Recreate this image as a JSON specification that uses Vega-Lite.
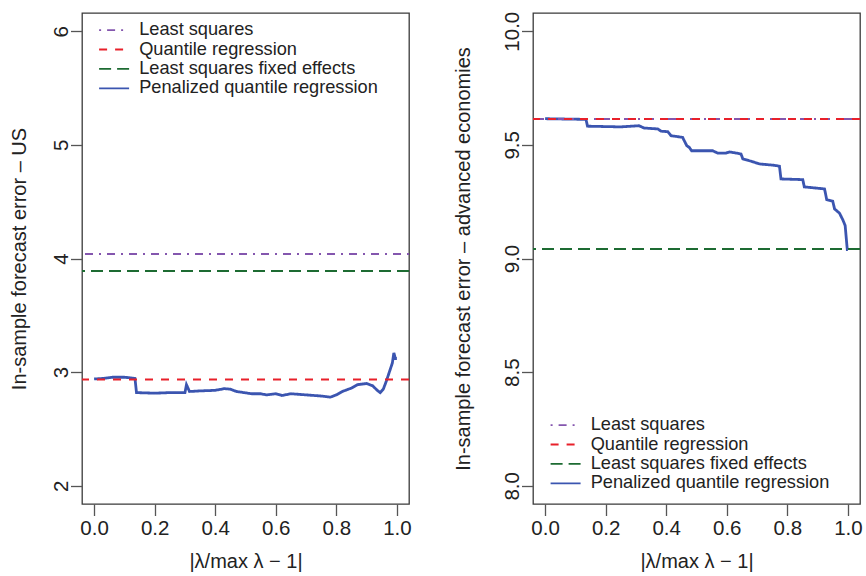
{
  "$schema": "https://vega.github.io/schema/vega-lite/v6.json",
  "padding": {"left": 8, "top": 10, "right": 5, "bottom": 5},
  "background": "white",
  "config": {
    "font": "Liberation Sans",
    "view": {"stroke": "#3a3a3a", "strokeWidth": 1.3},
    "axis": {
      "domain": false, "grid": false, "tickColor": "#555", "tickWidth": 1.3, "tickSize": 11.5,
      "labelFontSize": 20.5, "labelColor": "#222", "titleFontSize": 20, "titleFontWeight": "normal", "titleColor": "#222"
    },
    "axisX": {"labelPadding": 3, "titlePadding": 12},
    "axisY": {"labelAngle": -90, "labelAlign": "center", "labelBaseline": "alphabetic", "labelPadding": 3},
    "legend": {
      "orient": "none", "title": null, "symbolType": "M-3,0H3", "symbolSize": 100, "symbolStrokeWidth": 1.8, "symbolOffset": 4,
      "labelFontSize": 18.2, "labelColor": "#222", "labelOffset": 16, "padding": 0, "rowPadding": 0.4, "labelLimit": 400
    }
  },
  "datasets": {
    "us_flat": [
      {"series": "Least squares", "value": 4.04},
      {"series": "Quantile regression", "value": 2.935},
      {"series": "Least squares fixed effects", "value": 3.89}
    ],
    "us_pqr": [
      {"series": "Penalized quantile regression", "x": 0.0, "value": 2.94},
      {"series": "Penalized quantile regression", "x": 0.03, "value": 2.945},
      {"series": "Penalized quantile regression", "x": 0.06, "value": 2.955},
      {"series": "Penalized quantile regression", "x": 0.10, "value": 2.955},
      {"series": "Penalized quantile regression", "x": 0.12, "value": 2.95},
      {"series": "Penalized quantile regression", "x": 0.135, "value": 2.945},
      {"series": "Penalized quantile regression", "x": 0.14, "value": 2.82},
      {"series": "Penalized quantile regression", "x": 0.20, "value": 2.815},
      {"series": "Penalized quantile regression", "x": 0.25, "value": 2.82},
      {"series": "Penalized quantile regression", "x": 0.30, "value": 2.82},
      {"series": "Penalized quantile regression", "x": 0.305, "value": 2.89},
      {"series": "Penalized quantile regression", "x": 0.315, "value": 2.83},
      {"series": "Penalized quantile regression", "x": 0.35, "value": 2.835},
      {"series": "Penalized quantile regression", "x": 0.40, "value": 2.84},
      {"series": "Penalized quantile regression", "x": 0.43, "value": 2.855},
      {"series": "Penalized quantile regression", "x": 0.45, "value": 2.85},
      {"series": "Penalized quantile regression", "x": 0.47, "value": 2.83},
      {"series": "Penalized quantile regression", "x": 0.52, "value": 2.81},
      {"series": "Penalized quantile regression", "x": 0.55, "value": 2.81},
      {"series": "Penalized quantile regression", "x": 0.57, "value": 2.80},
      {"series": "Penalized quantile regression", "x": 0.60, "value": 2.81},
      {"series": "Penalized quantile regression", "x": 0.62, "value": 2.795},
      {"series": "Penalized quantile regression", "x": 0.65, "value": 2.81},
      {"series": "Penalized quantile regression", "x": 0.70, "value": 2.80},
      {"series": "Penalized quantile regression", "x": 0.75, "value": 2.79},
      {"series": "Penalized quantile regression", "x": 0.78, "value": 2.78},
      {"series": "Penalized quantile regression", "x": 0.80, "value": 2.80},
      {"series": "Penalized quantile regression", "x": 0.82, "value": 2.83},
      {"series": "Penalized quantile regression", "x": 0.85, "value": 2.86},
      {"series": "Penalized quantile regression", "x": 0.87, "value": 2.89},
      {"series": "Penalized quantile regression", "x": 0.90, "value": 2.90},
      {"series": "Penalized quantile regression", "x": 0.92, "value": 2.88},
      {"series": "Penalized quantile regression", "x": 0.935, "value": 2.84},
      {"series": "Penalized quantile regression", "x": 0.945, "value": 2.82},
      {"series": "Penalized quantile regression", "x": 0.955, "value": 2.85},
      {"series": "Penalized quantile regression", "x": 0.965, "value": 2.92},
      {"series": "Penalized quantile regression", "x": 0.975, "value": 3.00},
      {"series": "Penalized quantile regression", "x": 0.985, "value": 3.08},
      {"series": "Penalized quantile regression", "x": 0.99, "value": 3.17},
      {"series": "Penalized quantile regression", "x": 0.995, "value": 3.12},
      {"series": "Penalized quantile regression", "x": 1.0, "value": 3.12}
    ],
    "adv_flat": [
      {"series": "Least squares", "value": 9.614},
      {"series": "Quantile regression", "value": 9.614},
      {"series": "Least squares fixed effects", "value": 9.042}
    ],
    "adv_pqr": [
      {"series": "Penalized quantile regression", "x": 0.0, "value": 9.615},
      {"series": "Penalized quantile regression", "x": 0.135, "value": 9.612},
      {"series": "Penalized quantile regression", "x": 0.14, "value": 9.582},
      {"series": "Penalized quantile regression", "x": 0.25, "value": 9.579},
      {"series": "Penalized quantile regression", "x": 0.31, "value": 9.584},
      {"series": "Penalized quantile regression", "x": 0.327, "value": 9.574},
      {"series": "Penalized quantile regression", "x": 0.372, "value": 9.570},
      {"series": "Penalized quantile regression", "x": 0.383, "value": 9.560},
      {"series": "Penalized quantile regression", "x": 0.405, "value": 9.558},
      {"series": "Penalized quantile regression", "x": 0.416, "value": 9.540},
      {"series": "Penalized quantile regression", "x": 0.454, "value": 9.533},
      {"series": "Penalized quantile regression", "x": 0.468, "value": 9.496},
      {"series": "Penalized quantile regression", "x": 0.476, "value": 9.489},
      {"series": "Penalized quantile regression", "x": 0.484, "value": 9.474},
      {"series": "Penalized quantile regression", "x": 0.553, "value": 9.474},
      {"series": "Penalized quantile regression", "x": 0.570, "value": 9.464},
      {"series": "Penalized quantile regression", "x": 0.598, "value": 9.464},
      {"series": "Penalized quantile regression", "x": 0.609, "value": 9.469},
      {"series": "Penalized quantile regression", "x": 0.647, "value": 9.460},
      {"series": "Penalized quantile regression", "x": 0.653, "value": 9.438},
      {"series": "Penalized quantile regression", "x": 0.680, "value": 9.428},
      {"series": "Penalized quantile regression", "x": 0.708, "value": 9.416},
      {"series": "Penalized quantile regression", "x": 0.757, "value": 9.410},
      {"series": "Penalized quantile regression", "x": 0.774, "value": 9.406},
      {"series": "Penalized quantile regression", "x": 0.779, "value": 9.350},
      {"series": "Penalized quantile regression", "x": 0.851, "value": 9.347},
      {"series": "Penalized quantile regression", "x": 0.856, "value": 9.315},
      {"series": "Penalized quantile regression", "x": 0.923, "value": 9.306},
      {"series": "Penalized quantile regression", "x": 0.930, "value": 9.259},
      {"series": "Penalized quantile regression", "x": 0.950, "value": 9.252},
      {"series": "Penalized quantile regression", "x": 0.956, "value": 9.218},
      {"series": "Penalized quantile regression", "x": 0.972, "value": 9.200},
      {"series": "Penalized quantile regression", "x": 0.983, "value": 9.171},
      {"series": "Penalized quantile regression", "x": 0.991, "value": 9.145},
      {"series": "Penalized quantile regression", "x": 0.998, "value": 9.039},
      {"series": "Penalized quantile regression", "x": 1.0, "value": 9.039}
    ]
  },
  "hconcat": [
    {
      "width": 327, "height": 491,
      "layer": [
        {
          "data": {"name": "us_pqr"},
          "mark": {"type": "line", "strokeWidth": 2.8, "interpolate": "linear"},
          "encoding": {
            "x": {"field": "x", "type": "quantitative", "scale": {"domain": [-0.04, 1.04], "nice": false, "zero": false},
                  "axis": {"values": [0, 0.2, 0.4, 0.6, 0.8, 1.0], "format": ".1f", "title": "|λ/max λ − 1|"}},
            "y": {"field": "value", "type": "quantitative", "scale": {"domain": [1.84, 6.16], "nice": false, "zero": false},
                  "axis": {"values": [2, 3, 4, 5, 6], "format": "d", "title": "In-sample forecast error – US", "titlePadding": 22}},
            "color": {"field": "series", "type": "nominal",
                      "scale": {"domain": ["Least squares", "Quantile regression", "Least squares fixed effects", "Penalized quantile regression"],
                                "range": ["#8456ae", "#e8202a", "#1d6b32", "#3b55b0"]},
                      "legend": {"legendX": 19, "legendY": 8}},
            "strokeDash": {"field": "series", "type": "nominal",
                      "scale": {"domain": ["Least squares", "Quantile regression", "Least squares fixed effects", "Penalized quantile regression"],
                                "range": [[2, 6, 8, 6], [8, 8], [12, 6], [1, 0]]},
                      "legend": {"legendX": 19, "legendY": 8}}
          }
        },
        {
          "data": {"name": "us_flat"},
          "mark": {"type": "rule", "strokeWidth": 2},
          "encoding": {
            "y": {"field": "value", "type": "quantitative"},
            "color": {"field": "series", "type": "nominal"},
            "strokeDash": {"field": "series", "type": "nominal"}
          }
        }
      ]
    },
    {
      "width": 327, "height": 491,
      "layer": [
        {
          "data": {"name": "adv_pqr"},
          "mark": {"type": "line", "strokeWidth": 2.8, "interpolate": "linear"},
          "encoding": {
            "x": {"field": "x", "type": "quantitative", "scale": {"domain": [-0.04, 1.04], "nice": false, "zero": false},
                  "axis": {"values": [0, 0.2, 0.4, 0.6, 0.8, 1.0], "format": ".1f", "title": "|λ/max λ − 1|"}},
            "y": {"field": "value", "type": "quantitative", "scale": {"domain": [7.92, 10.08], "nice": false, "zero": false},
                  "axis": {"values": [8, 8.5, 9, 9.5, 10], "format": ".1f", "title": "In-sample forecast error – advanced economies", "titlePadding": 29}},
            "color": {"field": "series", "type": "nominal",
                      "scale": {"domain": ["Least squares", "Quantile regression", "Least squares fixed effects", "Penalized quantile regression"],
                                "range": ["#8456ae", "#e8202a", "#1d6b32", "#3b55b0"]},
                      "legend": {"legendX": 19.5, "legendY": 403}},
            "strokeDash": {"field": "series", "type": "nominal",
                      "scale": {"domain": ["Least squares", "Quantile regression", "Least squares fixed effects", "Penalized quantile regression"],
                                "range": [[2, 6, 8, 6], [8, 8], [12, 6], [1, 0]]},
                      "legend": {"legendX": 19.5, "legendY": 403}}
          }
        },
        {
          "data": {"name": "adv_flat"},
          "mark": {"type": "rule", "strokeWidth": 2},
          "encoding": {
            "y": {"field": "value", "type": "quantitative"},
            "color": {"field": "series", "type": "nominal"},
            "strokeDash": {"field": "series", "type": "nominal"}
          }
        }
      ]
    }
  ],
  "resolve": {
    "scale": {"color": "independent", "strokeDash": "independent"},
    "legend": {"color": "independent", "strokeDash": "independent"}
  },
  "spacing": 124,
  "bounds": "flush"
}
